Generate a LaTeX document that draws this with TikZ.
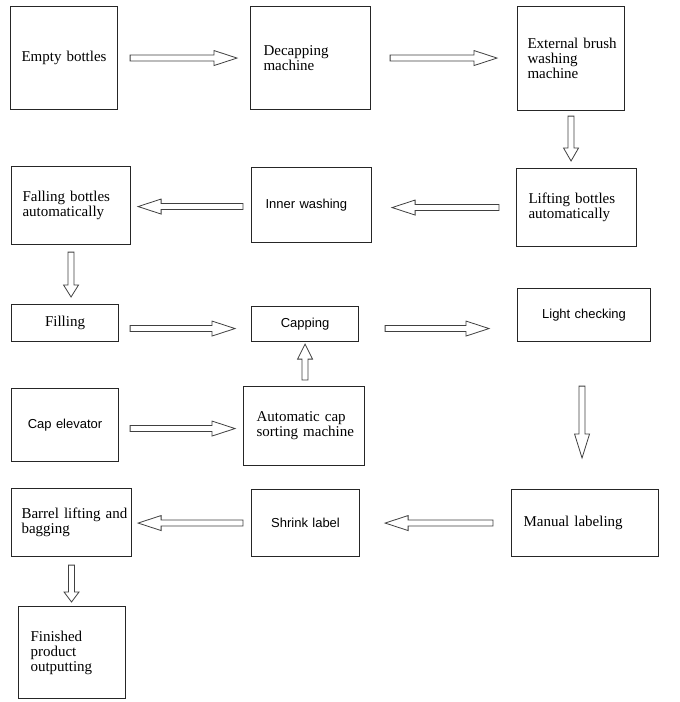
\documentclass[tikz,border=0pt]{standalone}
\usepackage{fontspec}
\setmainfont{Liberation Serif}
\newfontfamily\arialf{Liberation Sans}
\usetikzlibrary{calc}
\tikzset{
  box/.style={draw=black!85, line width=1.1pt, anchor=north west, align=left,
    inner ysep=0pt, font=\fontsize{15}{15}\selectfont},
  cbox/.style={box, align=center, inner xsep=4pt},
  sbox/.style={cbox, font=\arialf\fontsize{13}{15}\selectfont},
  blockarr/.style={draw=black!75, line width=0.8pt, fill=white, line join=miter},
}
% #1 head length, #2 start, #3 end
\newcommand\blockarrow[3][23]{%
  \coordinate (ba) at #2;
  \coordinate (bb) at #3;
  \coordinate (bh) at ($(bb)!#1pt!(ba)$);
  \draw[blockarr] ($(ba)!3pt!90:(bb)$) -- ($(bh)!3pt!-90:(ba)$) -- ($(bh)!7.5pt!-90:(ba)$)
    -- (bb) -- ($(bh)!7.5pt!90:(ba)$) -- ($(bh)!3pt!90:(ba)$) -- ($(ba)!3pt!-90:(bb)$) -- cycle;}
\begin{document}
\begin{tikzpicture}[x=1pt, y=-1pt]
\useasboundingbox (0,0) rectangle (680,702);
% row 1
\node[cbox, minimum height=103pt, text width=99pt] (eb) at (10,6) {\mbox{Empty bottles}};
\node[box, minimum height=103pt, text width=94pt, inner xsep=13pt] (dm) at (250,6) {\mbox{Decapping}\\\mbox{machine}};
\node[box, minimum height=104pt, text width=87pt, inner xsep=10pt] (ext) at (517,6) {\mbox{External brush}\\\mbox{washing}\\\mbox{machine}};
% row 2
\node[box, minimum height=78pt, text width=97pt, inner xsep=11pt] (fb) at (11,166) {\mbox{Falling bottles}\\\mbox{automatically}};
\node[box, font=\arialf\fontsize{13}{15}\selectfont, minimum height=75pt, text width=92pt, inner xsep=14pt] (iw) at (251,167) {\mbox{Inner washing}};
\node[box, minimum height=78pt, text width=96pt, inner xsep=12pt] (lift) at (516,168) {\mbox{Lifting bottles}\\\mbox{automatically}};
% row 3
\node[cbox, minimum height=37pt, text width=99pt] (fil) at (11,304) {Filling};
\node[sbox, minimum height=35pt, text width=99pt] (cap) at (251,306) {Capping};
\node[sbox, minimum height=53pt, text width=125pt] (lc) at (517,288) {\mbox{Light checking}};
% row 4
\node[sbox, minimum height=73pt, text width=99pt] (ce) at (11,388) {\mbox{Cap elevator}};
\node[box, minimum height=79pt, text width=95pt, inner xsep=13pt] (acs) at (243,386) {\mbox{Automatic cap}\\\mbox{sorting machine}};
% row 5
\node[box, minimum height=68pt, text width=100pt, inner xsep=10pt] (bl) at (11,488) {\mbox{Barrel lifting and}\\\mbox{bagging}};
\node[sbox, minimum height=67pt, text width=100pt] (sl) at (251,489) {\mbox{Shrink label}};
\node[box, minimum height=67pt, text width=123pt, inner xsep=12pt] (ml) at (511,489) {\mbox{Manual labeling}};
% row 6
\node[box, minimum height=92pt, text width=83pt, inner xsep=12pt] (fp) at (18,606) {\mbox{Finished}\\\mbox{product}\\\mbox{outputting}};
% arrows
\blockarrow{($(eb.east)+(12,0)$)}{($(dm.west|-ba)+(-13,0)$)}
\blockarrow{($(dm.east)+(19,0)$)}{($(ext.west|-ba)+(-20,0)$)}
\blockarrow[13]{($(ext.south)+(0,5)$)}{($(lift.north-|ba)+(0,-7)$)}
\blockarrow{($(lift.west)+(-17,0)$)}{($(iw.east|-ba)+(20,0)$)}
\blockarrow{($(iw.west)+(-8,1.5)$)}{($(fb.east|-ba)+(7,0)$)}
\blockarrow[12]{($(fb.south)+(0,7)$)}{($(fil.north-|ba)+(0,-7)$)}
\blockarrow{($(fil.east)+(11,5.5)$)}{($(cap.west|-ba)+(-16,0)$)}
\blockarrow{($(cap.east)+(26,4.5)$)}{($(lc.west|-ba)+(-28,0)$)}
\blockarrow[15]{($(acs.north)+(1,-6)$)}{($(cap.south-|ba)+(0,2)$)}
\blockarrow{($(ce.east)+(11,3.5)$)}{($(acs.west|-ba)+(-8,0)$)}
\blockarrow[24]{($(lc.south)+(-2,44)$)}{($(ml.north-|ba)+(0,-31)$)}
\blockarrow{($(ml.west)+(-18,0)$)}{($(sl.east|-ba)+(25,0)$)}
\blockarrow{($(sl.west)+(-8,0)$)}{($(bl.east|-ba)+(6,0)$)}
\blockarrow[10]{($(bl.south)+(0,8)$)}{($(fp.north-|ba)+(0,-4)$)}
\end{tikzpicture}
\end{document}
